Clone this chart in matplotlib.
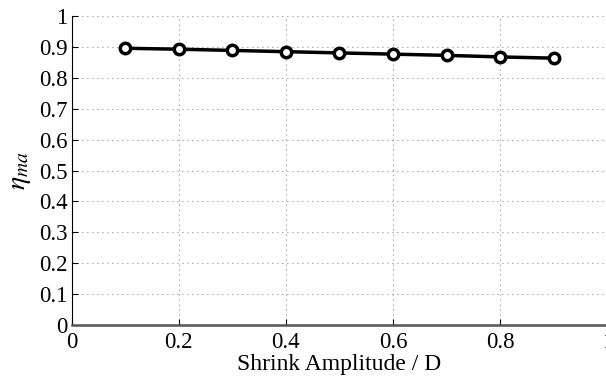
import matplotlib
matplotlib.use('Agg')
import numpy as np
from matplotlib import pyplot as plt

amplitude = [0.1, 0.2, 0.3, 0.4, 0.5, 0.6, 0.7, 0.8, 0.9]
eta_ma = [0.896, 0.893, 0.889, 0.885, 0.881, 0.877, 0.873, 0.868, 0.864]

plt.rcParams['font.family'] = 'Liberation Serif'
plt.rcParams['mathtext.fontset'] = 'stix'

fig = plt.figure(figsize=(6.06, 3.76), dpi=100)
ax = fig.add_axes([0.118, 0.136, 0.884, 0.821])

ax.plot(amplitude, eta_ma, color='black', linewidth=2.5,
        marker='o', markersize=7.5, markerfacecolor='white',
        markeredgewidth=2.5, markeredgecolor='black')

ax.set_xlim(0, 1)
ax.set_ylim(0, 1)
ax.set_xticks(np.arange(0, 1.01, 0.2))
ax.set_xticklabels(['0', '0.2', '0.4', '0.6', '0.8', '1'])
ax.set_yticks(np.arange(0, 1.01, 0.1))
ax.set_yticklabels(['0'] + ['%.1f' % v for v in np.arange(0.1, 0.95, 0.1)] + ['1'])

ax.grid(True, color='#444444', linestyle=(0, (1, 5)), linewidth=0.6)
for side in ['top', 'right']:
    ax.spines[side].set_visible(False)
ax.spines['left'].set_linewidth(0.8)
ax.spines['bottom'].set_linewidth(1.8)
ax.spines['bottom'].set_color('#555555')
ax.tick_params(direction='in', length=4, labelsize=16.5)
ax.tick_params(axis='x', pad=5)
ax.tick_params(axis='y', pad=3)

ax.set_xlabel('Shrink Amplitude / D', fontsize=17, labelpad=1)
ax.set_ylabel(r'$\eta_{ma}$', fontsize=20, labelpad=4)

fig.savefig('out.png', dpi=100)
